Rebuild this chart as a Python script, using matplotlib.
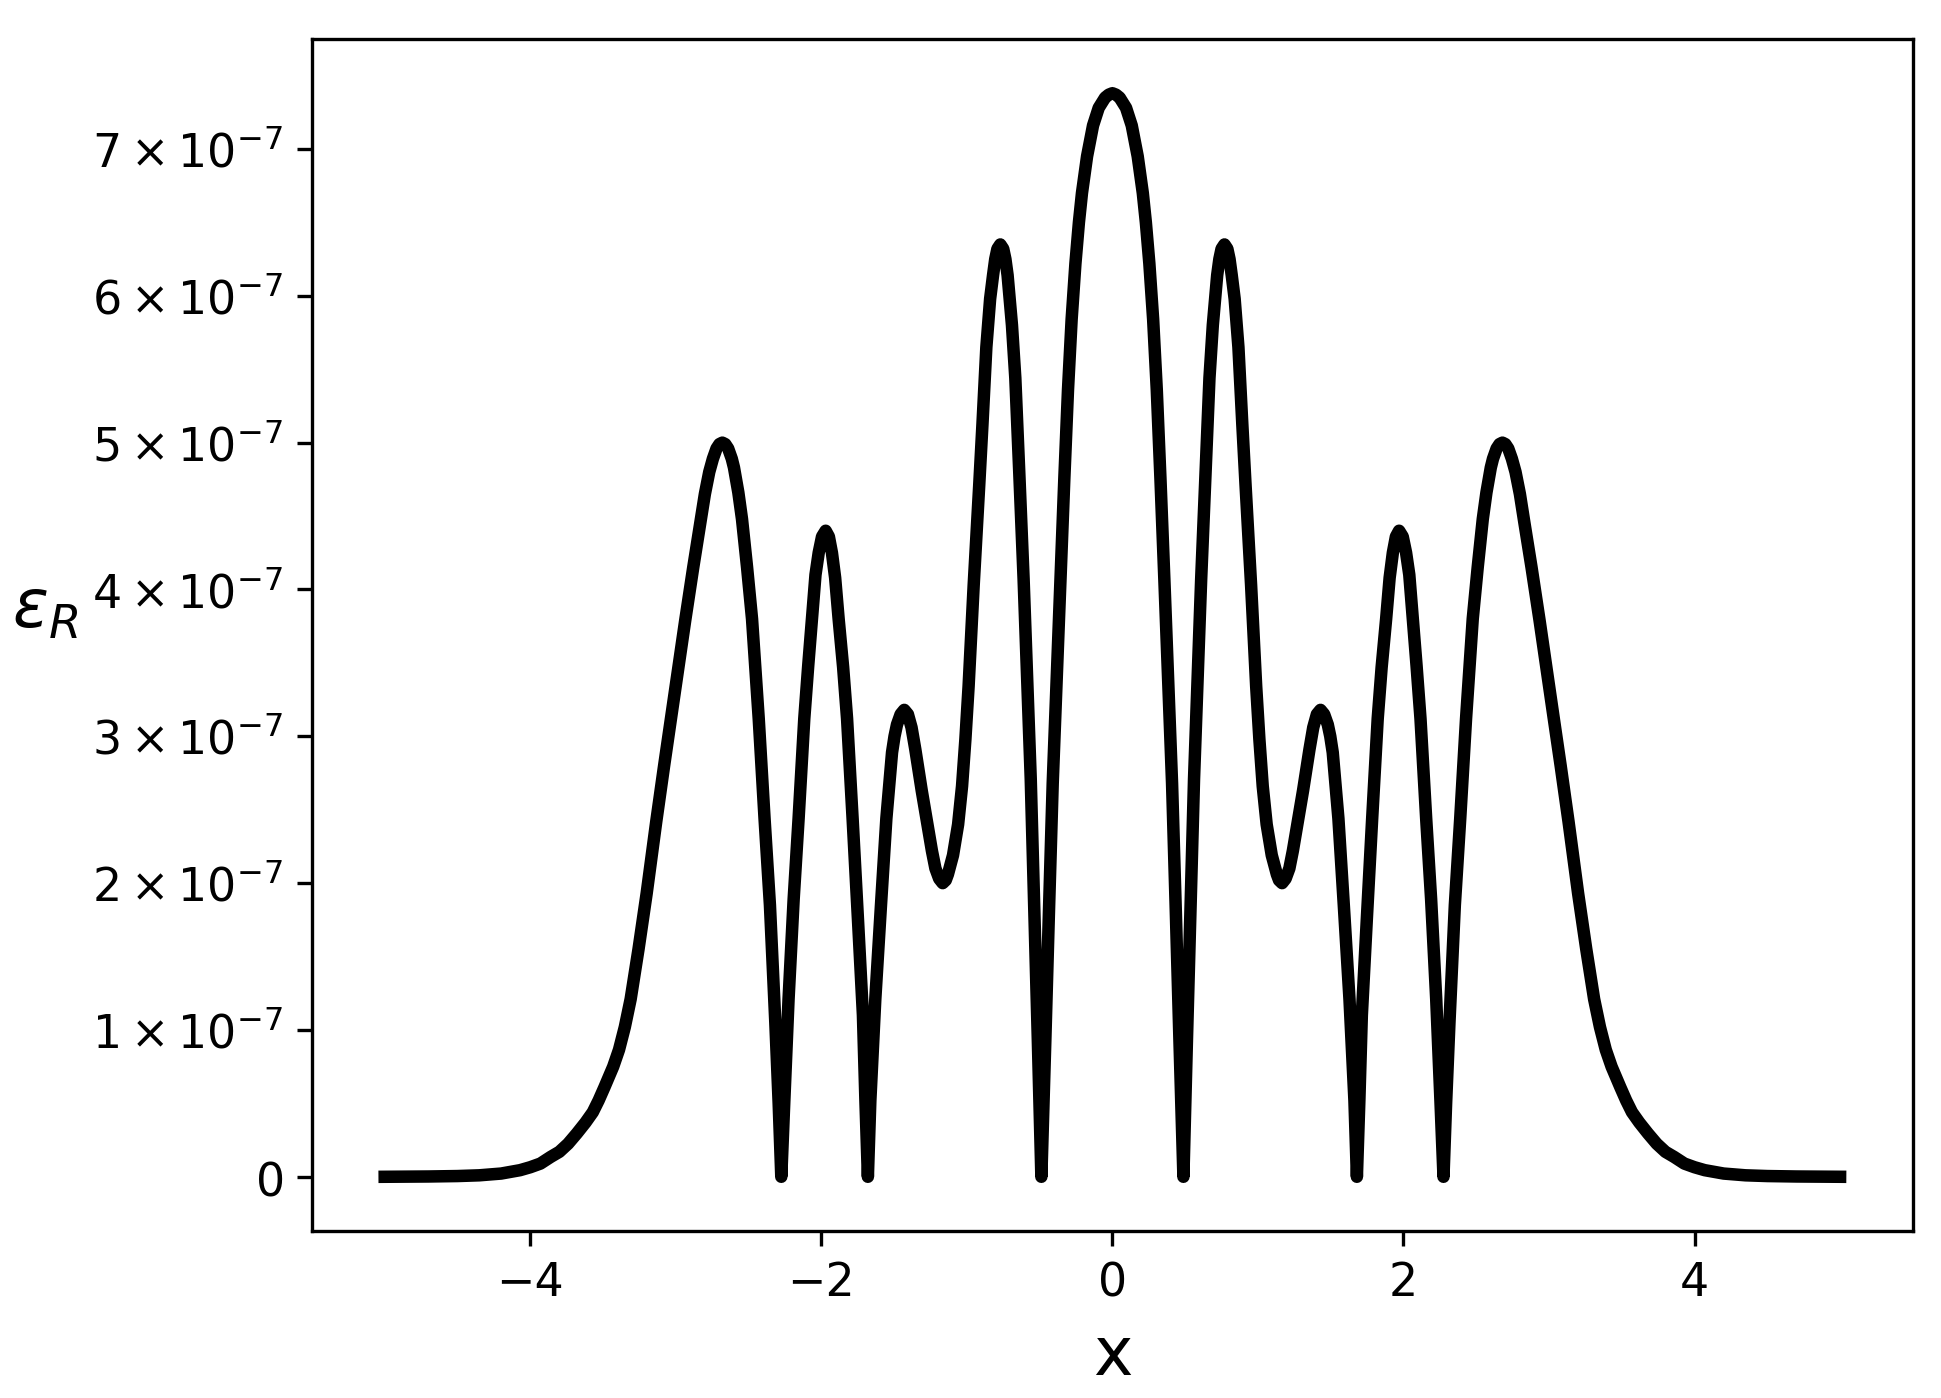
import numpy as np
import matplotlib
matplotlib.use("Agg")
import matplotlib.pyplot as plt

# values, y in units of 1e-7
x_left = [
    -5.00, -4.70, -4.50, -4.35, -4.20, -4.07, -4.00, -3.93, -3.86, -3.80,
    -3.74, -3.68, -3.62, -3.57, -3.53, -3.49, -3.43, -3.39, -3.35, -3.31,
    -3.256, -3.20, -3.134, -3.08, -3.03, -2.98, -2.935, -2.88, -2.83, -2.80,
    -2.77, -2.745, -2.72, -2.70, -2.68, -2.66, -2.64, -2.615, -2.60, -2.57,
    -2.545, -2.51, -2.476, -2.43, -2.39, -2.353, -2.316, -2.293, -2.275, -2.254,
    -2.225, -2.19, -2.156, -2.117, -2.09, -2.064, -2.04, -2.018, -1.995, -1.97,
    -1.948, -1.927, -1.905, -1.881, -1.85, -1.823, -1.785, -1.748, -1.714, -1.697,
    -1.68, -1.663, -1.629, -1.59, -1.553, -1.514, -1.497, -1.48, -1.455, -1.43,
    -1.405, -1.38, -1.354, -1.31, -1.274, -1.24, -1.216, -1.19, -1.166, -1.145,
    -1.13, -1.095, -1.06, -1.033, -1.01, -0.988, -0.953, -0.915, -0.893, -0.866,
    -0.84, -0.82, -0.805, -0.79, -0.77, -0.75, -0.735, -0.72, -0.69, -0.667,
    -0.64, -0.61, -0.561, -0.536, -0.512, -0.488, -0.461, -0.436, -0.41, -0.357,
    -0.33, -0.305, -0.28, -0.254, -0.23, -0.209, -0.174, -0.133, -0.094, -0.05,
    -0.025,
]
eps_left = [
    0.000, 0.002, 0.005, 0.010, 0.022, 0.045, 0.065, 0.090, 0.135, 0.170,
    0.225, 0.295, 0.370, 0.440, 0.520, 0.610, 0.750, 0.865, 1.02, 1.21,
    1.55, 1.93, 2.42, 2.80, 3.14, 3.48, 3.79, 4.15, 4.46, 4.65,
    4.80, 4.89, 4.96, 4.99, 5.00, 4.99, 4.96, 4.89, 4.83, 4.66,
    4.48, 4.15, 3.80, 3.12, 2.44, 1.85, 1.05, 0.50, 0.00, 0.52,
    1.21, 1.89, 2.44, 3.12, 3.48, 3.80, 4.10, 4.25, 4.36, 4.40,
    4.36, 4.25, 4.08, 3.80, 3.47, 3.12, 2.44, 1.75, 1.10, 0.52,
    0.00, 0.52, 1.21, 1.85, 2.44, 2.89, 3.00, 3.08, 3.15, 3.18,
    3.15, 3.06, 2.91, 2.63, 2.42, 2.22, 2.10, 2.03, 2.00, 2.02,
    2.06, 2.19, 2.40, 2.66, 2.98, 3.34, 4.03, 4.71, 5.12, 5.65,
    5.98, 6.14, 6.25, 6.32, 6.35, 6.32, 6.25, 6.14, 5.80, 5.44,
    4.80, 4.07, 2.71, 1.80, 0.92, 0.00, 0.92, 1.80, 2.68, 4.07,
    4.76, 5.36, 5.84, 6.22, 6.50, 6.70, 6.95, 7.16, 7.28, 7.35,
    7.37,
]
x_mid = [0.0]
eps_mid = [7.38]
x_right = [
    0.025, 0.05, 0.094, 0.133, 0.174, 0.209, 0.23, 0.254, 0.28, 0.305,
    0.33, 0.357, 0.41, 0.436, 0.461, 0.488, 0.512, 0.536, 0.561, 0.61,
    0.64, 0.667, 0.69, 0.72, 0.735, 0.75, 0.77, 0.79, 0.805, 0.82,
    0.84, 0.866, 0.893, 0.915, 0.953, 0.988, 1.01, 1.033, 1.06, 1.095,
    1.13, 1.145, 1.166, 1.19, 1.216, 1.24, 1.274, 1.31, 1.354, 1.38,
    1.405, 1.43, 1.455, 1.48, 1.497, 1.514, 1.553, 1.59, 1.629, 1.663,
    1.68, 1.697, 1.714, 1.748, 1.785, 1.823, 1.85, 1.881, 1.905, 1.927,
    1.948, 1.97, 1.995, 2.018, 2.04, 2.064, 2.09, 2.117, 2.156, 2.19,
    2.225, 2.254, 2.275, 2.293, 2.316, 2.353, 2.39, 2.43, 2.476, 2.51,
    2.545, 2.57, 2.60, 2.615, 2.64, 2.66, 2.68, 2.70, 2.72, 2.745,
    2.77, 2.80, 2.83, 2.88, 2.935, 2.98, 3.03, 3.08, 3.134, 3.20,
    3.256, 3.31, 3.35, 3.39, 3.43, 3.49, 3.53, 3.57, 3.62, 3.68,
    3.74, 3.80, 3.86, 3.93, 4.00, 4.07, 4.20, 4.35, 4.50, 4.70,
    5.00,
]
eps_right = [
    7.37, 7.35, 7.28, 7.16, 6.95, 6.70, 6.50, 6.22, 5.84, 5.36,
    4.76, 4.07, 2.68, 1.80, 0.92, 0.00, 0.92, 1.80, 2.71, 4.07,
    4.80, 5.44, 5.80, 6.14, 6.25, 6.32, 6.35, 6.32, 6.25, 6.14,
    5.98, 5.65, 5.12, 4.71, 4.03, 3.34, 2.98, 2.66, 2.40, 2.19,
    2.06, 2.02, 2.00, 2.03, 2.10, 2.22, 2.42, 2.63, 2.91, 3.06,
    3.15, 3.18, 3.15, 3.08, 3.00, 2.89, 2.44, 1.85, 1.21, 0.52,
    0.00, 0.52, 1.10, 1.75, 2.44, 3.12, 3.47, 3.80, 4.08, 4.25,
    4.36, 4.40, 4.36, 4.25, 4.10, 3.80, 3.48, 3.12, 2.44, 1.89,
    1.21, 0.52, 0.00, 0.50, 1.05, 1.85, 2.44, 3.12, 3.80, 4.15,
    4.48, 4.66, 4.83, 4.89, 4.96, 4.99, 5.00, 4.99, 4.96, 4.89,
    4.80, 4.65, 4.46, 4.15, 3.79, 3.48, 3.14, 2.80, 2.42, 1.93,
    1.55, 1.21, 1.02, 0.865, 0.750, 0.610, 0.520, 0.440, 0.370, 0.295,
    0.225, 0.170, 0.135, 0.090, 0.065, 0.045, 0.022, 0.010, 0.005, 0.002,
    0.000,
]
ytick_vals = [0, 1e-7, 2e-7, 3e-7, 4e-7, 5e-7, 6e-7, 7e-7]
ytick_labels = [r'$\mathdefault{0}$'] + [r'$\mathdefault{%d\times10^{-7}}$' % k for k in range(1, 8)]

x = np.array(x_left + x_mid + x_right)
y = np.array(eps_left + eps_mid + eps_right) * 1e-7

fig = plt.figure(figsize=(6.47, 4.6633), dpi=300)
ax = fig.add_axes([0.1607, 0.1194, 0.8248, 0.852])

ax.plot(x, y, color='black', linewidth=3)

ax.set_yticks(ytick_vals)
ax.set_yticklabels(ytick_labels)
ax.tick_params(labelsize=11)
ax.set_xlabel('x', fontsize=16)
ax.set_ylabel(r'$\epsilon_R$', fontsize=16, rotation=0, ha='center', va='center')
ax.yaxis.set_label_coords(-0.167, 0.523)

fig.savefig('out.png', dpi=300)
